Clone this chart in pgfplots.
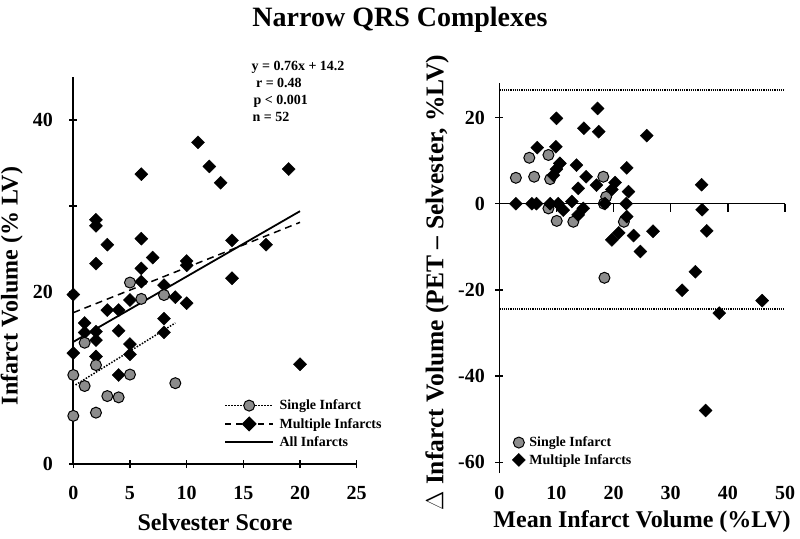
\documentclass[border=0pt]{standalone}
\usepackage{fontspec}
\setmainfont{Liberation Serif}
\usepackage{pgfplots}
\pgfplotsset{compat=1.18}
\definecolor{circgray}{RGB}{140,140,140}
\newcommand{\tickfont}{\fontsize{20}{22}\selectfont\bfseries}
\newcommand{\labfont}{\fontsize{24}{26}\selectfont\bfseries}
\newcommand{\smallfont}{\fontsize{14}{16}\selectfont\bfseries}
\pgfplotsset{
 common/.style={
  scale only axis, clip=false,
  tick style={line width=1.4pt, black},
  major tick length=8pt,
  tick align=outside,
  /pgf/number format/assume math mode=true,
  ticklabel style={font=\tickfont},
  label style={font=\labfont},
  legend style={font=\smallfont, draw=none, fill=none, inner sep=0pt, nodes={inner sep=1.5pt}, row sep=3pt},
  legend cell align=left,
 },
 fixlines/.style={
  axis line style={line width=1.6pt,-},
  x axis line style={-}, y axis line style={-},
  every outer x axis line/.append style={-},
  every outer y axis line/.append style={-},
 },
 sgl/.style={only marks, mark=*, mark size=5.5pt, mark options={fill=circgray, draw=black, line width=1pt, solid}},
 mul/.style={only marks, mark=square*, mark size=4.6pt, mark options={rotate=45, fill=black, draw=black, solid}},
}
\begin{document}
\begin{tikzpicture}
\begin{axis}[common, at={(73.3pt,-464pt)}, anchor=south west, width=283.4pt, height=387pt,
 xmin=0, xmax=25, ymin=0, ymax=45, axis x line=bottom, axis y line=left, fixlines,
 xtick={0,5,...,25}, ytick={0,10,...,40}, yticklabels={0,,20,,40},
 xticklabel style={yshift=-15pt}, yticklabel style={xshift=-13pt},
 xlabel={Selvester Score}, ylabel={Infarct Volume (\% LV)},
 xlabel style={at={(axis description cs:0.5,-0.15)}, anchor=center},
 ylabel style={at={(axis description cs:-0.2174,0.46)}, anchor=center},
 legend style={at={(axis description cs:0.532,0.17)}, anchor=north west, row sep=4pt,
   /tikz/every odd column/.append style={column sep=4pt}},
 legend image code/.code={\draw[mark repeat=2,mark phase=2,#1] plot coordinates {(0pt,0pt) (24pt,0pt) (48pt,0pt)};},
]
\addlegendimage{black, line width=1.5pt, dash pattern=on 1.5pt off 1.5pt, mark=*, mark size=5.5pt, mark options={fill=circgray, draw=black, line width=1pt, solid}}
\addlegendentry{Single Infarct}
\addlegendimage{black, line width=1.5pt, dash pattern=on 6pt off 5pt, mark=square*, mark size=4.6pt, mark options={rotate=45, fill=black, solid}}
\addlegendentry{Multiple Infarcts}
\addlegendimage{black, line width=1.8pt}
\addlegendentry{All Infarcts}
% regression lines
\addplot[forget plot, black, line width=1.5pt, dash pattern=on 1.5pt off 1.5pt] coordinates {(0.2,9.2) (9,16.4)};
\addplot[forget plot, black, line width=1.5pt, dash pattern=on 7pt off 5pt] coordinates {(0,17.6) (20,28.1)};
\addplot[forget plot, black, line width=1.8pt] coordinates {(0,14.2) (20,29.4)};
% multiple infarcts
\addplot[forget plot, mul] coordinates {
(2,28.4) (2,27.7) (3,25.5) (6,33.7) (6,26.2) (7,24.0) (10,23.6) (10,23.1)
(11,37.4) (12,34.6) (13,32.7) (14,26.0) (17,25.5) (19,34.3)
(2,23.3) (6,22.75) (6,21.2) (0,19.7) (8,20.8) (5,19.07) (9,19.4) (10,18.7)
(3,17.9) (4,17.9) (8,16.9) (1,16.4) (1,15.3) (2,15.4) (4,15.5) (8,15.3) (2,14.4)
(5,13.95) (0,12.9) (5,12.75) (2,12.5) (4,10.35) (14,21.6) (20,11.6)
};
% single infarct
\addplot[forget plot, sgl] coordinates {
(0,10.35) (0,5.6) (1,14.1) (1,9.07) (2,11.5) (2,5.97) (3,7.9) (4,7.75)
(5,10.4) (5,21.1) (6,19.2) (8,19.65) (9,9.4)
};
\end{axis}
\node[font=\smallfont, anchor=base west] at (248pt,-70.5pt) {y = 0.76x + 14.2};
\node[font=\smallfont, anchor=base west] at (252.5pt,-87.5pt) {r = 0.48};
\node[font=\smallfont, anchor=base west] at (250pt,-104.5pt) {p < 0.001};
\node[font=\smallfont, anchor=base west] at (249pt,-121.5pt) {n = 52};

\begin{axis}[common, at={(499.3pt,-473pt)}, anchor=south west, width=285.7pt, height=390pt,
 xmin=0, xmax=50, ymin=-62.5, ymax=28, axis x line=bottom, axis y line=left, fixlines,
 x axis line style={opacity=0}, xtick style={opacity=0},
 xtick={0,10,...,50}, ytick={-60,-40,...,20},
 xticklabel style={yshift=-6pt}, yticklabel style={xshift=-7pt},
 xlabel={Mean Infarct Volume (\%LV)}, ylabel={$\Delta$ Infarct Volume (PET – Selvester, \%LV)},
 xlabel style={at={(axis description cs:0.4995,-0.1256)}, anchor=center},
 ylabel style={at={(axis description cs:-0.218,0.488)}, anchor=center, font=\fontsize{25.5}{27}\selectfont\bfseries},
 legend style={at={(axis description cs:0.045,0.097)}, anchor=north west,
   /tikz/every odd column/.append style={column sep=2.5pt}},
 legend image code/.code={\draw[mark repeat=2,mark phase=2,#1] plot coordinates {(0pt,0pt) (6pt,0pt) (12pt,0pt)};},
]
\addplot[black, line width=2pt, dash pattern=on 1.2pt off 1pt, forget plot] coordinates {(0,26.4) (50,26.4)};
\addplot[black, line width=2pt, dash pattern=on 1.2pt off 1pt, forget plot] coordinates {(0,-24.4) (50,-24.4)};
\draw[line width=1.6pt] (axis cs:0,0) -- (axis cs:50,0);
\pgfplotsinvokeforeach{10,20,30,40,50}{\draw[line width=1.4pt] (axis cs:#1,0) -- ++(0pt,-8pt);}
\addplot[sgl] coordinates {
(5.25,10.65) (8.6,11.3) (2.9,6.0) (6.1,6.25) (8.9,5.7) (18.2,6.25) (18.7,1.6)
(18.3,0) (8.6,-1.1) (10.05,-4.0) (12.95,-4.2) (21.8,-4.2) (18.4,-17.2)
};
\addlegendentry{Single Infarct}
\addplot[mul] coordinates {
(10.0,19.8) (17.2,22.1) (14.8,17.5) (17.4,16.7) (25.8,15.8) (6.65,13.0) (9.9,13.2)
(10.6,9.35) (10.0,8.0) (9.45,6.6) (13.5,8.95) (15.2,6.25) (13.8,3.55) (17.0,4.3)
(20.25,4.9) (19.7,3.3) (22.3,8.3) (22.6,2.8) (2.9,0) (5.7,0) (6.5,0) (8.9,0)
(10.3,0) (12.7,0.5) (11.2,-1.5) (14.7,-1.1) (13.8,-2.6) (18.5,0) (22.2,0)
(22.3,-3.0) (20.9,-6.8) (19.7,-8.4) (23.5,-7.4) (24.7,-11.1) (26.9,-6.4)
(35.4,4.4) (35.5,-1.4) (36.3,-6.3) (34.3,-15.8) (32.0,-20.1) (38.5,-25.4)
(46.0,-22.5) (36.1,-48.0)
};
\addlegendentry{Multiple Infarcts}
\end{axis}
\node[font=\fontsize{28}{30}\selectfont\bfseries] at (400pt,-20pt) {Narrow QRS Complexes};
\pgfresetboundingbox
\path[use as bounding box] (0pt,0pt) rectangle (800pt,-538pt);
\end{tikzpicture}
\end{document}
